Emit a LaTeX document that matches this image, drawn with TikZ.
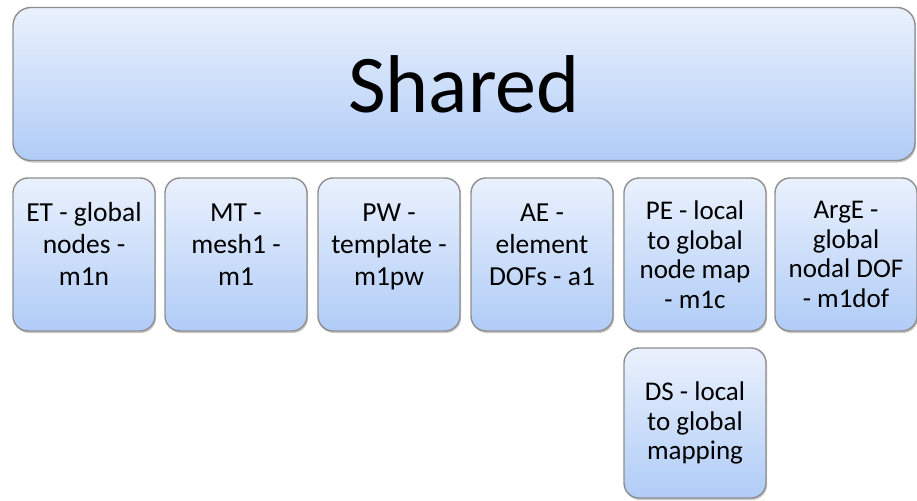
\documentclass[tikz,border=0pt]{standalone}
\usepackage{fontspec}
\setmainfont{Carlito}
\usetikzlibrary{shadows}
\definecolor{boxtop}{HTML}{EAF1FD}
\definecolor{boxbot}{HTML}{B0CCF7}
\definecolor{boxline}{HTML}{8E8E8E}
\newcommand{\liftedtext}[1]{\raisebox{0pt}[\height][\dimexpr\depth+14pt\relax]{\begin{tabular}{@{}c@{}}#1\end{tabular}}}
\tikzset{
  card/.style={rectangle, rounded corners=15pt, draw=boxline, line width=1.4pt,
    top color=boxtop, bottom color=boxbot, align=center, inner sep=0pt,
    minimum width=142pt, minimum height=153pt,
    drop shadow={shadow xshift=1pt, shadow yshift=-2pt, opacity=0.35, fill=black!60},
    font=\fontsize{27}{29.5}\selectfont},
  tallcard/.style={card, font=\fontsize{27.5}{32}\selectfont},
  bigcard/.style={card, minimum width=902pt, minimum height=153pt, rounded corners=18pt,
    font=\fontsize{82}{96}\selectfont}
}
\begin{document}
\begin{tikzpicture}[x=1pt,y=-1pt]
\useasboundingbox (0,0) rectangle (917,500);
\fill[white] (0,0) rectangle (917,500);
\node[bigcard] (shared) at (464,84) {Shared};
\node[tallcard] (et) at (84,254.5) {\liftedtext{ET - global\\nodes -\\m1n}};
\node[tallcard] (mt) at (236,254.5) {\liftedtext{MT -\\mesh1 -\\m1}};
\node[tallcard] (pw) at (389,254.5) {\liftedtext{PW -\\template -\\m1pw}};
\node[tallcard] (ae) at (542,254.5) {\liftedtext{AE -\\element\\DOFs - a1}};
\node[card] (pe) at (695,254.5) {PE - local\\to global\\node map\\- m1c};
\node[card] (arge) at (846,254.5) {ArgE -\\global\\nodal DOF\\- m1dof};
\node[card, minimum height=150pt] (ds) at (695,423) {DS - local\\to global\\mapping};
\end{tikzpicture}
\end{document}
